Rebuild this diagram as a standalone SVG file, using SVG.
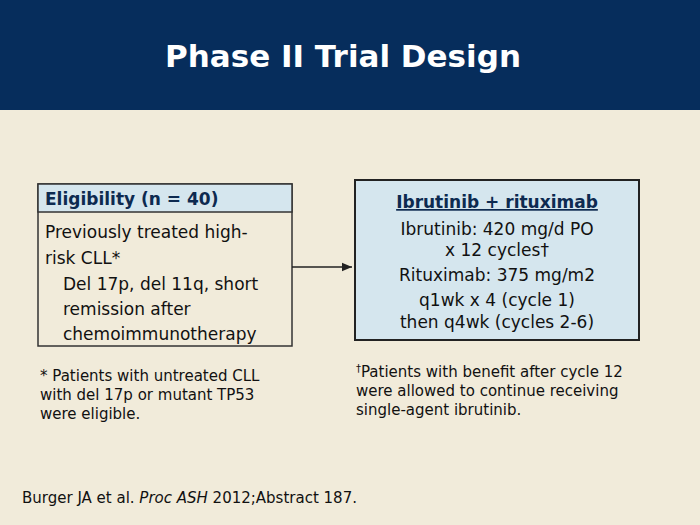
<svg xmlns="http://www.w3.org/2000/svg" width="700" height="525" viewBox="0 0 700 525">
<style>
text{font-family:"DejaVu Sans","Verdana",sans-serif;fill:#111}
.b{font-size:17px}
.s{font-size:15px}
</style>
<defs><marker id="a" markerWidth="8" markerHeight="8" refX="7" refY="4" orient="auto"><path d="M0,1 L7,4 L0,7z" fill="#222"/></marker></defs>
<rect width="700" height="525" fill="#f1ebda"/>
<rect width="700" height="110" fill="#062d5c"/>
<text x="343" y="67" text-anchor="middle" style="font-size:31px;font-weight:bold;fill:#fff">Phase II Trial Design</text>
<g id="eligibility">
<rect x="38" y="184" width="254" height="162" fill="#f1ebda" stroke="#333" stroke-width="1.5"/>
<rect x="38" y="184" width="254" height="28" fill="#d5e6ee" stroke="#333" stroke-width="1.5"/>
<text x="45" y="205" class="b" style="font-weight:bold;fill:#0d2a50">Eligibility (n = 40)</text>
<text x="45" y="238" class="b">Previously treated high-</text>
<text x="45" y="264" class="b">risk CLL*</text>
<text x="63" y="290" class="b">Del 17p, del 11q, short</text>
<text x="63" y="315" class="b">remission after</text>
<text x="63" y="340" class="b">chemoimmunotherapy</text>
</g>
<g id="treatment">
<rect x="355" y="180" width="284" height="160" fill="#d5e6ee" stroke="#222" stroke-width="2"/>
<text x="497" y="208" text-anchor="middle" class="b" style="font-weight:bold;text-decoration:underline;fill:#0d2a50">Ibrutinib + rituximab</text>
<text x="497" y="235" text-anchor="middle" class="b">Ibrutinib: 420 mg/d PO</text>
<text x="497" y="256" text-anchor="middle" class="b">x 12 cycles†</text>
<text x="497" y="281" text-anchor="middle" class="b">Rituximab: 375 mg/m2</text>
<text x="497" y="306" text-anchor="middle" class="b">q1wk x 4 (cycle 1)</text>
<text x="497" y="328" text-anchor="middle" class="b">then q4wk (cycles 2-6)</text>
</g>
<g id="connectors"><line x1="292" y1="267" x2="352" y2="267" stroke="#222" stroke-width="1.5" marker-end="url(#a)"/></g>
<g id="notes">
<text x="40" y="381" class="s">* Patients with untreated CLL</text>
<text x="40" y="400" class="s">with del 17p or mutant TP53</text>
<text x="40" y="419" class="s">were eligible.</text>
<text x="356" y="377" class="s"><tspan style="font-size:10px" dy="-5">†</tspan><tspan dy="5">Patients with benefit after cycle 12</tspan></text>
<text x="356" y="396" class="s">were allowed to continue receiving</text>
<text x="356" y="415" class="s">single-agent ibrutinib.</text>
<text x="22" y="503" class="s">Burger JA et al. <tspan font-style="italic">Proc ASH</tspan> 2012;Abstract 187.</text>
</g>
</svg>
